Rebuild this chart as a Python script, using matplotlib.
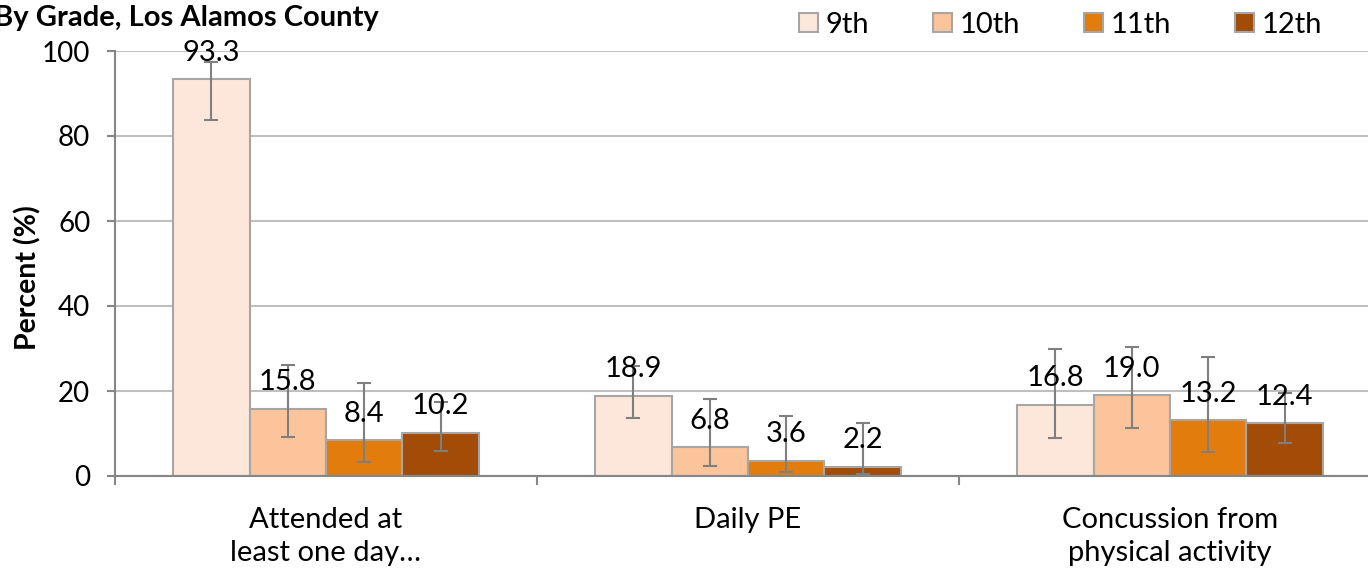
import numpy as np
import matplotlib
matplotlib.use("Agg")
import matplotlib.pyplot as plt
from matplotlib.patches import Patch

plt.rcParams['font.family'] = ['Lato', 'DejaVu Sans']

categories = ["Attended at\nleast one day\u2026", "Daily PE", "Concussion from\nphysical activity"]
grades = ["9th", "10th", "11th", "12th"]

# percent by grade, one value per category
pct_9 = [93.3, 18.9, 16.8]
pct_10 = [15.8, 6.8, 19.0]
pct_11 = [8.4, 3.6, 13.2]
pct_12 = [10.2, 2.2, 12.4]

# confidence interval ends
low_9 = [83.8, 13.7, 8.9]
high_9 = [97.4, 26.0, 29.9]
low_10 = [9.2, 2.4, 11.4]
high_10 = [26.1, 18.1, 30.4]
low_11 = [3.2, 0.9, 5.7]
high_11 = [21.8, 14.1, 28.0]
low_12 = [6.0, 0.5, 7.8]
high_12 = [17.5, 12.4, 19.5]

colors = ['#FDE7DA', '#FBC49B', '#E27C0D', '#A34C08']
edge = '#A6A6A6'
err_col = '#7F7F7F'
grid_col = '#BFBFBF'
fs = 21

series = [(pct_9, low_9, high_9), (pct_10, low_10, high_10),
          (pct_11, low_11, high_11), (pct_12, low_12, high_12)]

fig = plt.figure(figsize=(13.68, 5.73), dpi=100)
ax = fig.add_axes([115 / 1368, 1 - 476 / 573, 1266 / 1368, 425 / 573])

x = np.arange(len(categories))
w = 0.181
for i, (vals, lo, hi) in enumerate(series):
    vals = np.array(vals)
    pos = x + (i - 1.5) * w
    ax.bar(pos, vals, w, color=colors[i], edgecolor=edge, linewidth=1.5, zorder=2)
    yerr = [vals - np.array(lo), np.array(hi) - vals]
    ax.errorbar(pos, vals, yerr=yerr, fmt='none', ecolor=err_col, elinewidth=1.5,
                capsize=5, capthick=1.5, zorder=3)
    for px, v in zip(pos, vals):
        ax.annotate(f"{v:.1f}", (px, v), xytext=(0, 19), textcoords='offset points',
                    ha='center', va='center', fontsize=fs, zorder=4)

ax.set_ylim(0, 100)
ax.set_xlim(-0.5, 2.5)
ax.set_yticks(np.arange(0, 101, 20))
ax.yaxis.grid(True, color=grid_col, linewidth=1.5, zorder=0)
ax.set_axisbelow(True)

ax.set_xticks([-0.5, 0.5, 1.5, 2.5])
ax.set_xticklabels([])
ax.set_xticks(x, minor=True)
ax.set_xticklabels(categories, minor=True, fontsize=fs, linespacing=1.3)
ax.tick_params(axis='x', which='minor', length=0, pad=22.5)
ax.tick_params(axis='x', which='major', length=6.5, width=1.5, color='#868686')
ax.tick_params(axis='y', length=5.8, width=1.5, color='#868686', labelsize=20, pad=12)

for s in ['top', 'right']:
    ax.spines[s].set_visible(False)
for s in ['left', 'bottom']:
    ax.spines[s].set_color('#868686')
    ax.spines[s].set_linewidth(1.5)

fig.text(28 / 1368, 1 - 278 / 573, "Percent (%)", rotation=90, ha='center', va='center',
         fontsize=20.5, fontweight='bold')
fig.text(-6 / 1368, 1 - 18 / 573, "By Grade, Los Alamos County", ha='left', va='center',
         fontsize=fs, fontweight='bold')

handles = [Patch(facecolor=c, edgecolor=edge, linewidth=1.5) for c in colors]
fig.legend(handles, grades, loc='center right', bbox_to_anchor=(1322 / 1368, 1 - 25 / 573),
           ncol=4, frameon=False, fontsize=fs, handlelength=0.65, handleheight=0.65,
           handletextpad=0.25, columnspacing=2.2, borderaxespad=0, borderpad=0)

fig.savefig("out.png", dpi=100)
